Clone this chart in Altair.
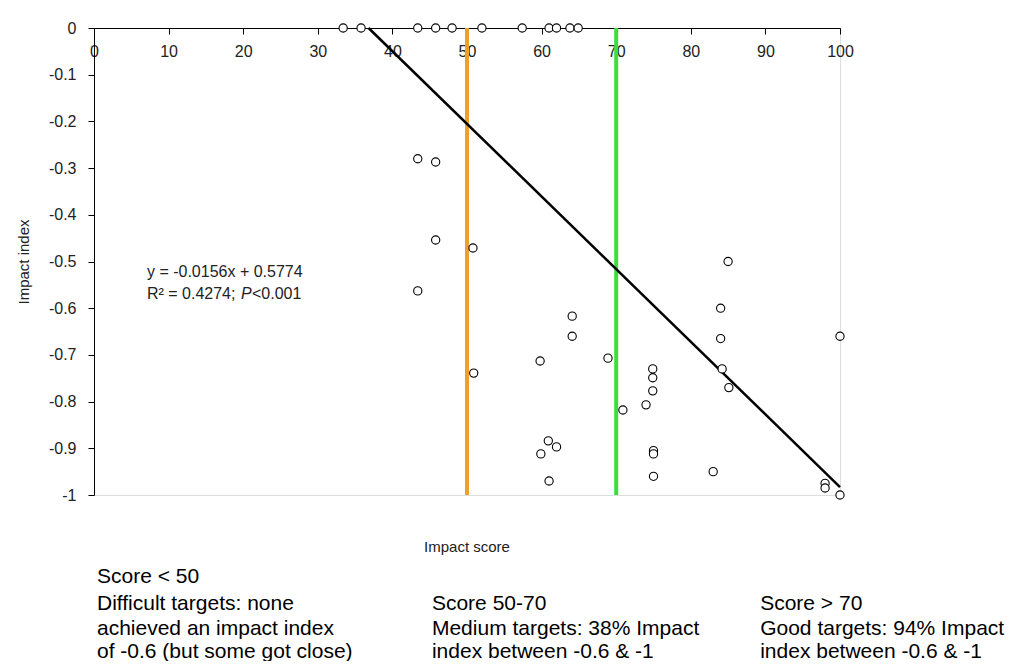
import altair as alt
import pandas as pd

# ---- data ----
score = [43.4, 45.8, 45.8, 50.8, 43.4, 50.9, 59.8, 64.1, 64.1, 68.9, 70.9, 74.0,
         74.9, 74.9, 74.9, 60.9, 62.0, 59.9, 75.0, 75.0, 61.0, 75.0, 83.0, 85.0,
         84.0, 84.0, 84.2, 85.1, 98.0, 98.0, 100.0, 100.0]
impact = [-0.28, -0.287, -0.454, -0.471, -0.563, -0.739, -0.713, -0.617, -0.66, -0.707,
          -0.818, -0.807, -0.73, -0.749, -0.777, -0.884, -0.897, -0.912, -0.905, -0.912,
          -0.97, -0.96, -0.95, -0.50, -0.60, -0.665, -0.73, -0.77, -0.975, -0.985,
          -1.0, -0.66]
zero_score = [33.4, 35.8, 43.4, 45.8, 48.0, 52.0, 57.4, 61.0, 62.0, 63.8, 64.9]

trend_x = [36.8, 100.0]
trend_y = [0.0, -0.983]

threshold_x = [50, 70]
threshold_color = ["#EFA02C", "#3EDC3E"]

x_ticks = list(range(0, 101, 10))
y_ticks = [0, -0.1, -0.2, -0.3, -0.4, -0.5, -0.6, -0.7, -0.8, -0.9, -1.0]

eq_line1 = "y = -0.0156x + 0.5774"
eq_line2a = "R\u00b2 = 0.4274;"
eq_line2b = "P"
eq_line2c = "<0.001"

notes_left = ["Score < 50", "Difficult targets: none", "achieved an impact index",
              "of -0.6 (but some got close)"]
notes_mid = ["Score 50-70", "Medium targets: 38% Impact", "index between -0.6 & -1"]
notes_right = ["Score > 70", "Good targets: 94% Impact", "index between -0.6 & -1"]

# ---- layout (data-space anchors for annotations) ----
W, H = 746, 467
FONT = "Liberation Sans"
line_y = [-1.176, -1.233, -1.287, -1.336]

xs = alt.Scale(domain=[0, 100], nice=False, zero=False)
ys = alt.Scale(domain=[-1, 0], nice=False, zero=False)

x_axis = alt.Axis(orient="bottom", offset=-H, values=x_ticks, format="d", title="",
                  grid=False, tickSize=6, labelPadding=9, labelFlush=False,
                  labelOverlap=False, domainColor="black", tickColor="black",
                  labelFontSize=16, labelColor="#222222", labelFont=FONT)
y_axis = alt.Axis(values=y_ticks, title="Impact index", grid=False, tickSize=6,
                  labelPadding=12, labelFlush=False, labelOverlap=False,
                  labelExpr="datum.value == 0 ? '0' : '-' + format(-datum.value, '.1~f')",
                  domainColor="black", tickColor="black", labelFontSize=16,
                  labelColor="#222222", labelFont=FONT, titleFont=FONT,
                  titleFontSize=15, titleFontWeight="normal", titleColor="#222222",
                  titlePadding=17)


def X():
    return alt.X("x:Q", scale=xs, axis=x_axis)


def Y():
    return alt.Y("y:Q", scale=ys, axis=y_axis)


pts = pd.DataFrame({"x": score + zero_score,
                    "y": impact + [0.0] * len(zero_score)})
trend = pd.DataFrame({"x": trend_x, "y": trend_y})

layers = []
for tx, col in zip(threshold_x, threshold_color):
    d = pd.DataFrame({"x": [tx, tx], "y": [0.0, -1.0]})
    layers.append(alt.Chart(d).mark_line(color=col, strokeWidth=4).encode(x=X(), y=Y()))

layers.append(alt.Chart(trend).mark_line(color="black", strokeWidth=2.5).encode(x=X(), y=Y()))

layers.append(alt.Chart(pts).mark_point(shape="circle", filled=True, fill="white",
                                        stroke="black", strokeWidth=1.1, size=68,
                                        opacity=1).encode(x=X(), y=Y()))

# equation
EQ_FS = 16
eq1 = pd.DataFrame({"x": [7.1], "y": [-0.522], "t": [eq_line1]})
eq2 = pd.DataFrame({"x": [7.1], "y": [-0.570], "t": [eq_line2a]})
eq2b = pd.DataFrame({"x": [7.1], "y": [-0.570], "t": [eq_line2b]})
eq2c = pd.DataFrame({"x": [7.1], "y": [-0.570], "t": [eq_line2c]})
layers.append(alt.Chart(eq1).mark_text(align="left", baseline="middle", font=FONT,
                                       fontSize=EQ_FS, color="#222222").encode(x=X(), y=Y(), text="t:N"))
layers.append(alt.Chart(eq2).mark_text(align="left", baseline="middle", font=FONT,
                                       fontSize=EQ_FS, color="#222222").encode(x=X(), y=Y(), text="t:N"))
layers.append(alt.Chart(eq2b).mark_text(align="left", baseline="middle", font=FONT,
                                        fontSize=EQ_FS, fontStyle="italic", dx=94,
                                        color="#222222").encode(x=X(), y=Y(), text="t:N"))
layers.append(alt.Chart(eq2c).mark_text(align="left", baseline="middle", font=FONT,
                                        fontSize=EQ_FS, dx=105,
                                        color="#222222").encode(x=X(), y=Y(), text="t:N"))

# x axis title
xt = pd.DataFrame({"x": [50.0], "y": [-1.111], "t": ["Impact score"]})
layers.append(alt.Chart(xt).mark_text(align="center", baseline="middle", font=FONT,
                                      fontSize=15, color="#222222").encode(x=X(), y=Y(), text="t:N"))

# notes
notes = pd.DataFrame({
    "x": [0.4] * 4 + [45.3] * 3 + [89.3] * 3,
    "y": line_y + line_y[1:] + line_y[1:],
    "t": notes_left + notes_mid + notes_right,
})
layers.append(alt.Chart(notes).mark_text(align="left", baseline="middle", font=FONT,
                                         fontSize=21, color="black").encode(x=X(), y=Y(), text="t:N"))

chart = alt.layer(*layers).properties(
    width=W, height=H,
    autosize=alt.AutoSizeParams(type="none"),
    padding={"left": 86, "top": 20, "right": 168, "bottom": 166},
    background="white",
).configure_view(stroke=None).configure(font=FONT)

chart.save("out.html", embed_options={"renderer": "svg", "actions": False})
